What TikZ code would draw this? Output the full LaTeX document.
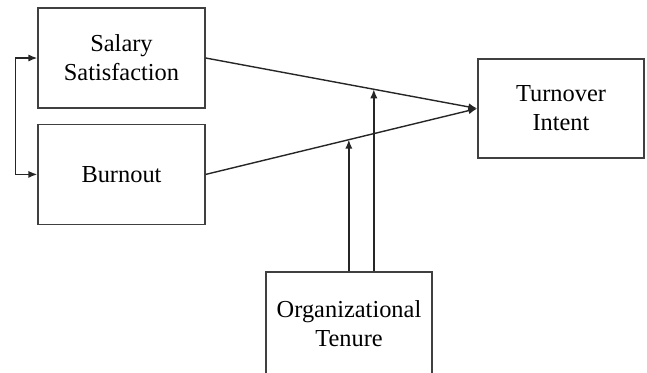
\documentclass[tikz,border=0pt]{standalone}
\usepackage{fontspec}
\setmainfont{Liberation Serif}
\usetikzlibrary{positioning}
\usetikzlibrary{arrows.meta}
\usetikzlibrary{calc}
\tikzset{
        boxnode/.style={align=center,inner sep=0pt,font=\fontsize{12.2}{14.5}\selectfont},
        % Predictor nodes
        node_predictor/.style={boxnode, rectangle, draw=black!75, line width=0.7pt, minimum width=83.5pt, minimum height=50pt},
        % Outcome node
        node_outcome/.style={boxnode, rectangle, draw=black!75, line width=0.7pt, minimum width=83pt, minimum height=49.5pt},
        % Moderator node
        node_moderator/.style={boxnode, rectangle, draw=black!75, line width=0.7pt, minimum width=83pt, minimum height=52pt},
        % Paths
        path_line/.style={-{Latex[length=4.5pt,width=3.6pt]}, draw=black!85, line width=0.7pt}
}
\begin{document}
\begin{tikzpicture}[x=0.5pt, y=-0.5pt]
            \useasboundingbox (0,0) rectangle (647,372);
            % Nodes
            \node[node_predictor] (salary) at (121.5,58) {Salary\\Satisfaction};
            \node[node_predictor, below=7.5pt of salary] (burnout) {Burnout};
            \node[node_outcome] (turnover) at (561,108.5) {Turnover\\Intent};
            \node[node_moderator] (tenure) at (349,324) {Organizational\\Tenure};
            % Points where the moderator meets the paths
            \coordinate (mod_burnout) at ($(burnout.east)!0.527!(turnover.west)$);
            \coordinate (mod_salary) at ($(salary.east)!0.619!(turnover.west)$);
            % Paths
            \draw[path_line] (salary.east) -- (turnover.west);
            \draw[path_line] (burnout.east) -- (turnover.west);
            \draw[path_line, {Latex[length=4.5pt,width=3.6pt]}-{Latex[length=4.5pt,width=3.6pt]}] (salary.west) -- ++(-22,0) |- (burnout.west);
            \draw[path_line] (mod_burnout |- tenure.north) -- (mod_burnout);
            \draw[path_line] (mod_salary |- tenure.north) -- (mod_salary);
        \end{tikzpicture}
\end{document}
